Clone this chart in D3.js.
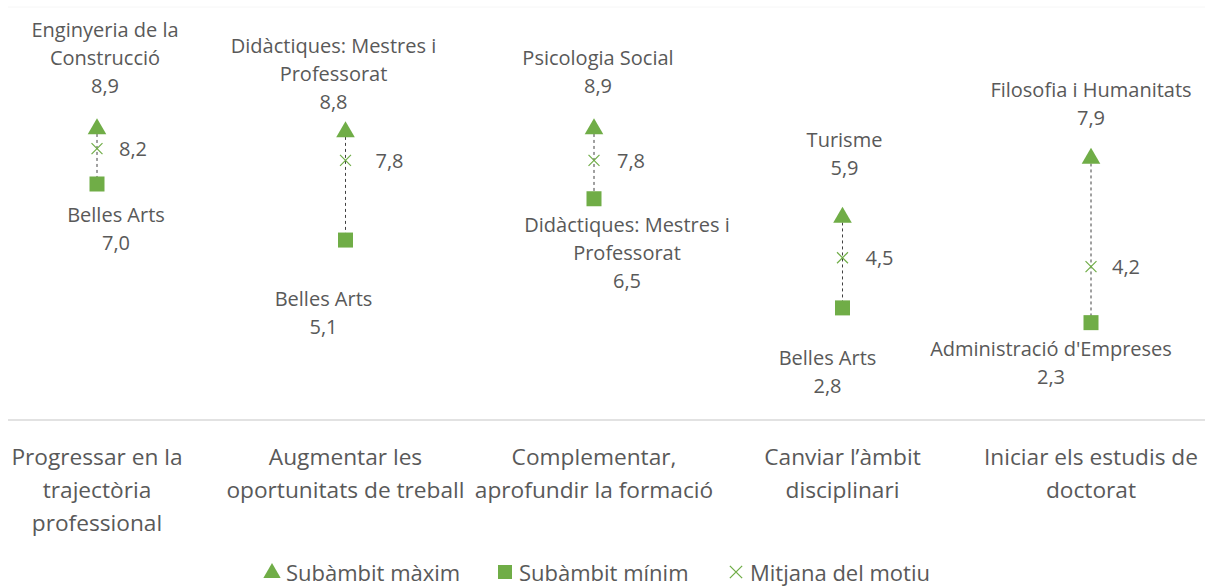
<!DOCTYPE html>
<html lang="ca">
<head>
    <meta charset="UTF-8">
    <title>Subàmbits per motiu</title>
    <script src="https://d3js.org/d3.v7.min.js"></script>
    <style>
        body { margin: 0; background: #fff; }
        text { font-family: "Open Sans", "Noto Sans", sans-serif; fill: #595959; }
    </style>
</head>
<body>
<div id="chart"></div>
<script>
    // Data
    var categories = [
        ["Progressar en la", "trajectòria", "professional"],
        ["Augmentar les", "oportunitats de treball"],
        ["Complementar,", "aprofundir la formació"],
        ["Canviar l’àmbit", "disciplinari"],
        ["Iniciar els estudis de", "doctorat"]
    ];
    var maxValues = [8.9, 8.8, 8.9, 5.9, 7.9];
    var maxNames = [
        ["Enginyeria de la", "Construcció"],
        ["Didàctiques: Mestres i", "Professorat"],
        ["Psicologia Social"],
        ["Turisme"],
        ["Filosofia i Humanitats"]
    ];
    var minValues = [7.0, 5.1, 6.5, 2.8, 2.3];
    var minNames = [
        ["Belles Arts"],
        ["Belles Arts"],
        ["Didàctiques: Mestres i", "Professorat"],
        ["Belles Arts"],
        ["Administració d'Empreses"]
    ];
    var meanValues = [8.2, 7.8, 7.8, 4.5, 4.2];
    var legendLabels = ["Subàmbit màxim", "Subàmbit mínim", "Mitjana del motiu"];

    // label nudges (manual placement in the original)
    var maxLabelShift = [[8, -42], [-12, -29], [4, -42], [2, -49], [0, -40]];
    var minLabelShift = [[19, 30], [-22, 58], [33, 26], [-15, 50], [-40, 26]];
    var meanLabelDx = [22, 30, 23, 23, 21];

    var width = 1208, height = 586;
    var green = "#70ad47";
    var lineH = 28;
    var labelSize = "20px";

    var loc = d3.formatLocale({decimal: ",", thousands: ".", grouping: [3], currency: ["", "€"]});
    var fmt = loc.format(".1f");

    var svg = d3.select("#chart").append("svg")
        .attr("width", width)
        .attr("height", height);

    var x = d3.scalePoint()
        .domain(d3.range(categories.length))
        .range([97, 1091]);

    var y = d3.scaleLinear()
        .domain([-1, 13])
        .range([420, 7]);

    // faint top gridline + category axis
    svg.append("line")
        .attr("x1", 8).attr("x2", 1205)
        .attr("y1", y(13)).attr("y2", y(13))
        .style("stroke", "#f6f6f6");

    svg.append("line")
        .attr("x1", 8).attr("x2", 1205)
        .attr("y1", y(-1)).attr("y2", y(-1))
        .style("stroke", "#d9d9d9")
        .style("stroke-width", 1.5);

    categories.forEach(function (lines, i) {
        var t = svg.append("text")
            .attr("text-anchor", "middle")
            .style("font-size", "22.7px");
        lines.forEach(function (l, k) {
            t.append("tspan")
                .attr("x", x(i))
                .attr("y", 456 + k * 33)
                .attr("dominant-baseline", "central")
                .text(l);
        });
    });

    var tri = d3.symbol().type(d3.symbolTriangle).size(150);
    var cross = d3.symbol().type(d3.symbolX).size(80);

    categories.forEach(function (c, i) {
        var cx = x(i);

        // dashed range line
        svg.append("line")
            .attr("x1", cx).attr("x2", cx)
            .attr("y1", y(maxValues[i])).attr("y2", y(minValues[i]))
            .style("stroke", "#404040")
            .style("stroke-width", 1)
            .style("stroke-dasharray", "3,3");

        // max
        svg.append("path")
            .attr("d", tri)
            .attr("transform", "translate(" + cx + "," + (y(maxValues[i]) + 1) + ")")
            .style("fill", green);

        // min
        svg.append("rect")
            .attr("x", cx - 7.5)
            .attr("y", y(minValues[i]) - 7.5)
            .attr("width", 15)
            .attr("height", 15)
            .style("fill", green);

        // mean
        svg.append("path")
            .attr("d", cross)
            .attr("transform", "translate(" + cx + "," + y(meanValues[i]) + ")")
            .style("fill", "none")
            .style("stroke", green)
            .style("stroke-width", 1.2);

        svg.append("text")
            .attr("x", cx + meanLabelDx[i])
            .attr("y", y(meanValues[i]))
            .attr("dominant-baseline", "central")
            .style("font-size", labelSize)
            .text(fmt(meanValues[i]));

        // max label (name lines above value)
        var mx = cx + maxLabelShift[i][0];
        var my = y(maxValues[i]) + maxLabelShift[i][1];
        var maxLines = maxNames[i].concat([fmt(maxValues[i])]);
        var tMax = svg.append("text").attr("text-anchor", "middle").style("font-size", labelSize);
        maxLines.forEach(function (l, k) {
            tMax.append("tspan")
                .attr("x", mx)
                .attr("y", my - (maxLines.length - 1 - k) * lineH)
                .attr("dominant-baseline", "central")
                .text(l);
        });

        // min label (name lines then value)
        var nx = cx + minLabelShift[i][0];
        var ny = y(minValues[i]) + minLabelShift[i][1];
        var minLines = minNames[i].concat([fmt(minValues[i])]);
        var tMin = svg.append("text").attr("text-anchor", "middle").style("font-size", labelSize);
        minLines.forEach(function (l, k) {
            tMin.append("tspan")
                .attr("x", nx)
                .attr("y", ny + k * lineH)
                .attr("dominant-baseline", "central")
                .text(l);
        });
    });

    // legend
    var legendY = 572;
    var legendX = [272, 505, 736];
    var lg = svg.append("g");

    lg.append("path")
        .attr("d", d3.symbol().type(d3.symbolTriangle).size(130))
        .attr("transform", "translate(" + legendX[0] + "," + (legendY + 1) + ")")
        .style("fill", green);
    lg.append("rect")
        .attr("x", legendX[1] - 7).attr("y", legendY - 7)
        .attr("width", 14).attr("height", 14)
        .style("fill", green);
    lg.append("path")
        .attr("d", d3.symbol().type(d3.symbolX).size(100))
        .attr("transform", "translate(" + legendX[2] + "," + legendY + ")")
        .style("fill", "none")
        .style("stroke", green)
        .style("stroke-width", 1.3);

    legendLabels.forEach(function (l, i) {
        lg.append("text")
            .attr("x", legendX[i] + 14)
            .attr("y", legendY)
            .attr("dominant-baseline", "central")
            .style("font-size", "22px")
            .text(l);
    });
</script>
</body>
</html>
